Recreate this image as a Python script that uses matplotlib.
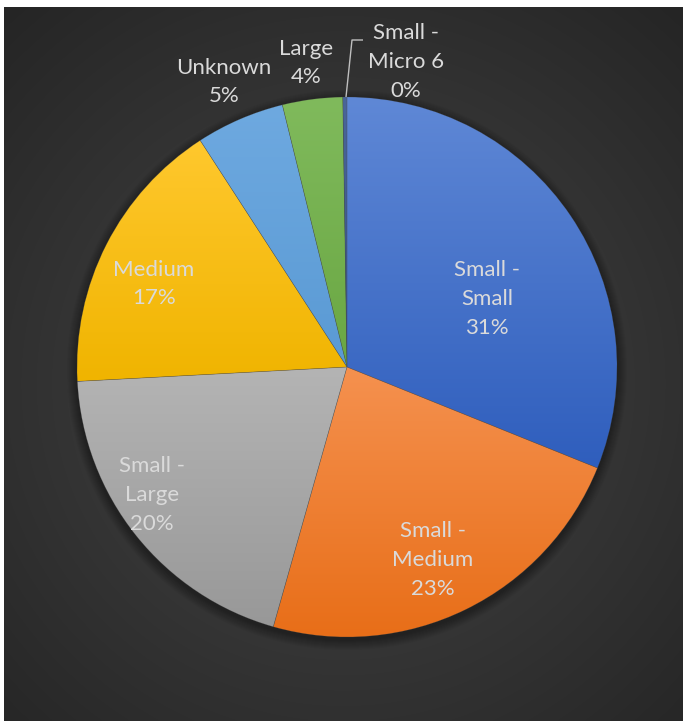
import numpy as np
import matplotlib
matplotlib.use("Agg")
import matplotlib.pyplot as plt
from matplotlib.colors import to_rgb

# Share of items by size class
categories = ["Small - Small", "Small - Medium", "Small - Large", "Medium",
              "Unknown", "Large", "Small - Micro 6"]
shares = [31.1, 23.3, 19.75, 16.7, 5.3, 3.6, 0.25]

# Slice fills: lighter at the top of each slice, darker at its bottom
top_colors = ["#5F88D6", "#F5914F", "#B4B4B4", "#FFC82E", "#6EA9E0", "#80BA5C", "#4A6699"]
bottom_colors = ["#2F5EBD", "#E86E18", "#989898", "#F0B400", "#5A9AD4", "#6AA743", "#34518A"]

W, H = 683, 721
fig = plt.figure(figsize=(W / 100, H / 100), dpi=100, facecolor="white")
ax = fig.add_axes([0, 0, 1, 1])
ax.set_axis_off()

# Dark panel with a soft radial glow
px0, px1, py0, py1 = 4, W, 0, H - 7
gx, gy = np.meshgrid(np.linspace(px0, px1, 400), np.linspace(py0, py1, 400))
pcx, pcy = (px0 + px1) / 2, (py0 + py1) / 2 - 20
d = np.hypot(gx - pcx, gy - pcy) / np.hypot(px1 - pcx, py1 - pcy)
d = np.clip(d, 0, 1)
c_in, c_out = np.array(to_rgb("#464646")), np.array(to_rgb("#252525"))
bg = c_in[None, None, :] * (1 - d[..., None]) + c_out[None, None, :] * d[..., None]
ax.imshow(bg, extent=(px0, px1, py0, py1), origin="lower", zorder=0, interpolation="bilinear")

cx, cy, R = 347, H - 367, 270

# Soft drop shadow under the pie
for k in range(10):
    ax.add_patch(plt.Circle((cx, cy - 3), R + 10 - k, color="black", alpha=0.03,
                            lw=0, zorder=1))

wedges, _ = ax.pie(shares, startangle=90, counterclock=False, center=(cx, cy), radius=R,
                   colors=bottom_colors,
                   wedgeprops=dict(linewidth=0.4, edgecolor=(0.3, 0.3, 0.3, 0.35), zorder=2))

for w, ct, cb in zip(wedges, top_colors, bottom_colors):
    bb = w.get_path().get_extents()
    t = np.linspace(0, 1, 256)[:, None]
    ct_, cb_ = np.array(to_rgb(ct)), np.array(to_rgb(cb))
    grad = cb_[None, None, :] * (1 - t[..., None]) + ct_[None, None, :] * t[..., None]
    grad = np.repeat(grad, 2, axis=1)
    im = ax.imshow(grad, extent=(bb.x0, bb.x1, bb.y0, bb.y1), origin="lower",
                   zorder=2.5, interpolation="bilinear")
    im.set_clip_path(w)
    w.set_zorder(3)
    w.set_facecolor("none")

# Data labels
label_pos = [(487, 299), (433, 560), (152, 495), (154, 284), (224, 82), (306, 63), (406, 62)]
text_color = "#DADADA"
for name, v, (lx, ly) in zip(categories, shares, label_pos):
    txt = name.replace(" - ", " -\n") + "\n" + f"{round(v)}%"
    ax.text(lx, H - ly, txt, ha="center", va="center", multialignment="center",
            color=text_color, fontsize=16, family="Lato", linespacing=1.55, zorder=5)

# Leader line for the tiny slice
ax.plot([346, 352, 363], [H - 97, H - 40, H - 40], color="#BFBFBF", lw=1, zorder=4,
        solid_capstyle="butt")

ax.set_xlim(0, W)
ax.set_ylim(0, H)
ax.set_aspect("auto")

fig.savefig("out.png", dpi=100, facecolor="white")
